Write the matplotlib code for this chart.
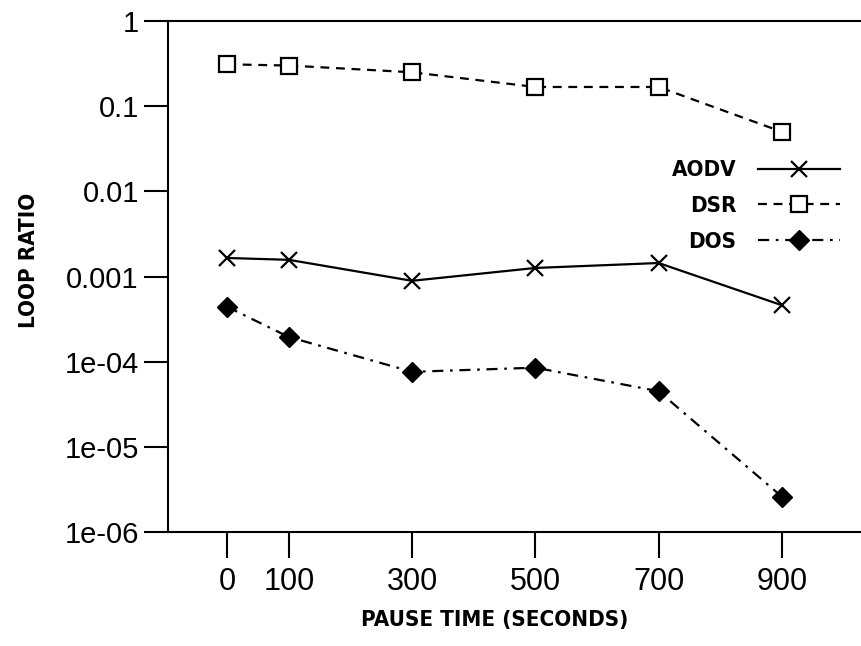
import numpy as np
import matplotlib
matplotlib.use('Agg')
import matplotlib.pyplot as plt
from matplotlib.ticker import NullLocator

# 数据 (pause time vs loop ratio)
pause_time = [0, 100, 300, 500, 700, 900]
aodv = [0.00165, 0.00157, 0.00089, 0.00126, 0.00144, 0.00046]
dsr = [0.31, 0.30, 0.25, 0.168, 0.168, 0.050]
dos = [4.4e-4, 1.95e-4, 7.6e-5, 8.5e-5, 4.5e-5, 2.6e-6]

ytick_vals = [1, 0.1, 0.01, 0.001, 1e-4, 1e-5, 1e-6]
ytick_labels = ['1', '0.1', '0.01', '0.001', '1e-04', '1e-05', '1e-06']

label_font = ['DejaVu Sans']
tick_font = ['Liberation Sans', 'DejaVu Sans']

fig = plt.figure(figsize=(8.62, 6.46), dpi=100)
W, H = 862, 646
# axes box in pixels: left 168, top 21, bottom 532, right beyond edge
ax = fig.add_axes([168 / W, (H - 532) / H, (862 - 168) / W, (532 - 21) / H])

ax.plot(pause_time, aodv, color='black', lw=1.6, marker='x', ms=11, mew=1.6,
        label='AODV')
ax.plot(pause_time, dsr, color='black', lw=1.6, ls=(0, (4, 3)), marker='s', ms=11,
        mfc='white', mew=1.6, label='DSR')
ax.plot(pause_time, dos, color='black', lw=1.6, ls=(0, (5, 3, 1.2, 3)), marker='D',
        ms=10, label='DOS')

ax.set_yscale('log')
ax.set_ylim(1e-6, 1)
ax.set_xlim(-96, 1030)
ax.set_yticks(ytick_vals)
ax.set_yticklabels(ytick_labels, family=tick_font, fontsize=21)
ax.yaxis.set_minor_locator(NullLocator())
ax.set_xticks(pause_time)
ax.set_xticklabels([str(p) for p in pause_time], family=tick_font, fontsize=22)

ax.tick_params(axis='y', direction='out', length=17, width=1.5, pad=4)
ax.tick_params(axis='x', direction='out', length=19, width=1.5, pad=6)

for s in ['left', 'top', 'bottom']:
    ax.spines[s].set_linewidth(1.5)
ax.spines['right'].set_visible(False)

ax.set_xlabel('PAUSE TIME (SECONDS)', family=label_font, fontweight='bold',
              fontstretch='condensed', fontsize=16)
ax.xaxis.set_label_coords(0.471, -0.152)
ax.set_ylabel('LOOP RATIO', family=label_font, fontweight='bold',
              fontstretch='condensed', fontsize=16)
ax.yaxis.set_label_coords(-0.186, 0.532)

leg = ax.legend(loc='center right', bbox_to_anchor=(0.968, 0.638), frameon=False,
                markerfirst=False, handlelength=3.7, handletextpad=0.95,
                labelspacing=0.7, borderpad=0, borderaxespad=0,
                prop={'family': label_font, 'weight': 'bold', 'stretch': 'condensed',
                      'size': 16})

fig.savefig('out.png', dpi=100)
